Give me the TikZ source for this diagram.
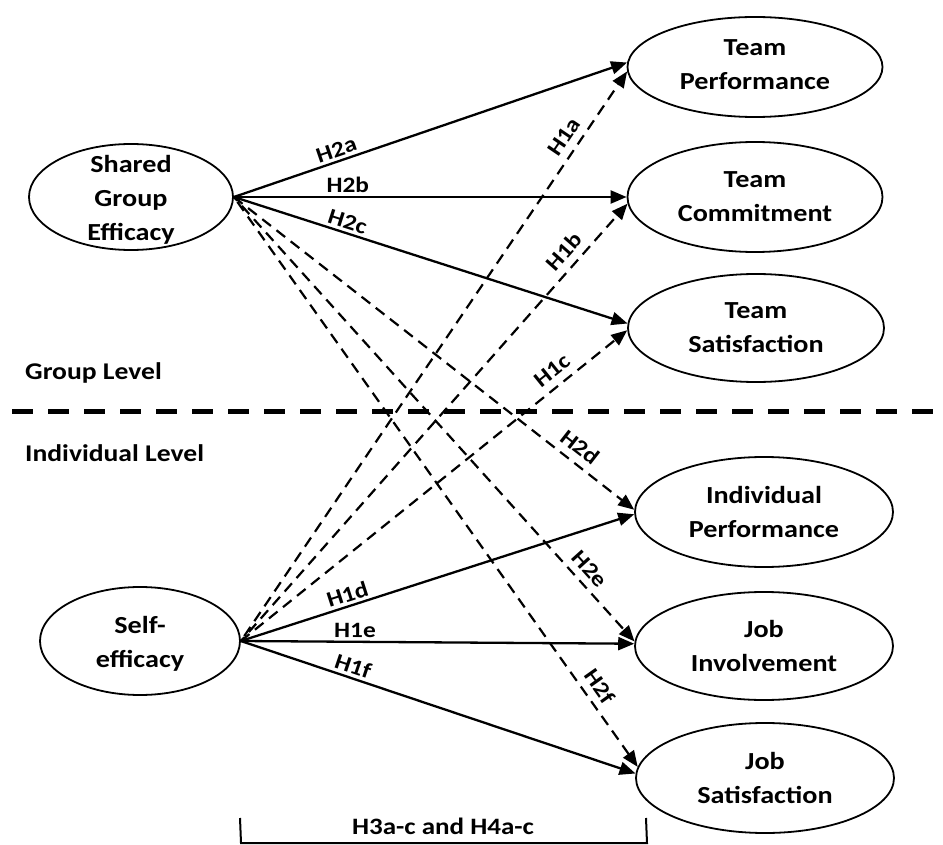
\documentclass[tikz,border=0pt]{standalone}
\usepackage{fontspec}
\setmainfont{Carlito}[FakeStretch=1.15]
\usetikzlibrary{shapes.geometric,arrows.meta}
\begin{document}
\begin{tikzpicture}[x=1pt,y=-1pt,
  construct/.style={ellipse, draw, line width=1.8pt, inner sep=0pt},
  ctext/.style={font=\fontsize{24.5}{34}\selectfont\bfseries, align=center, inner sep=0pt},
  tipstyle/.style={-{Triangle[length=16pt,width=13pt]}},
  link/.style={tipstyle, line width=2.3pt},
  dlink/.style={tipstyle, line width=2.2pt, dash pattern=on 11pt off 7pt, dash phase=#1},
  dlink/.default=0pt,
  hyp/.style={font=\fontsize{22}{26}\selectfont\bfseries, sloped, above, inner sep=3pt},
  dhyp/.style={hyp, inner sep=7pt},
  level/.style={font=\fontsize{24}{28}\selectfont\bfseries, anchor=west, inner sep=0pt},
  divider/.style={line width=5pt, dash pattern=on 21pt off 15pt},
]
\useasboundingbox (0,0) rectangle (943,845);

% predictors
\node[construct, minimum width=204pt, minimum height=106pt,
      label={[ctext, yshift=-3pt]center:Shared\\Group\\Efficacy}] (sge) at (131,197) {};
\node[construct, minimum width=200pt, minimum height=108pt,
      label={[ctext, yshift=-3pt]center:Self-\\efficacy}] (se) at (140,641) {};

% group-level outcomes
\node[construct, minimum width=255pt, minimum height=100pt,
      label={[ctext, yshift=2pt]center:Team\\Performance}] (tp) at (755,67) {};
\node[construct, minimum width=255pt, minimum height=110pt,
      label={[ctext]center:Team\\Commitment}] (tc) at (755,197) {};
\node[construct, minimum width=256pt, minimum height=108pt,
      label={[ctext]center:Team\\Satisfaction}] (ts) at (756,328) {};

% individual-level outcomes
\node[construct, minimum width=258pt, minimum height=110pt,
      label={[ctext]center:Individual\\Performance}] (ip) at (764,512) {};
\node[construct, minimum width=258pt, minimum height=108pt,
      label={[ctext]center:Job\\Involvement}] (ji) at (764,646) {};
\node[construct, minimum width=258pt, minimum height=110pt,
      label={[ctext]center:Job\\Satisfaction}] (js) at (765,778) {};

% level separator
\coordinate (divL) at (12,411);
\coordinate (divR) at (943,411);
\draw[divider] (divL) -- (divR);
\node[level] (grp) at (25,373) {Group Level};
\node[level] (ind) at (25,453) {Individual Level};

% shared group efficacy paths (dash phases staggered so the fans stay apart)
\draw[link] (sge.east) -- (tp.178) node[hyp, pos=.27] {H2a};
\draw[link] (sge.east) -- (tc.180) node[hyp, pos=.29] {H2b};
\draw[link] (sge.east) -- (ts.178.6) node[hyp, pos=.28] {H2c};
\draw[dlink=0pt] (sge.east) -- (ip.179) node[dhyp, pos=.84] {H2d};
\draw[dlink=6pt] (sge.east) -- (ji.178.7) node[dhyp, pos=.86] {H2e};
\draw[dlink=12pt] (sge.east) -- (js.175.5) node[dhyp, pos=.875] {H2f};

% self-efficacy paths
\draw[dlink=12pt] (se.east) -- (tp.182.3) node[dhyp, pos=.87] {H1a};
\draw[dlink=6pt] (se.east) -- (tc.183.2) node[dhyp, pos=.867] {H1b};
\draw[dlink=0pt] (se.east) -- (ts.181.3) node[dhyp, pos=.83] {H1c};
\draw[link] (se.east) -- (ip.181.5) node[hyp, pos=.28] {H1d};
\draw[link] (se.east) -- (ji.179.6) node[hyp, pos=.29] {H1e};
\draw[link] (se.east) -- (js.178) node[hyp, pos=.275] {H1f};

% cross-level bracket
\draw[line width=2pt] (240,818) -- (241,843) -- (647,843) -- (646,818);
\node[font=\fontsize{23.5}{28}\selectfont\bfseries, inner sep=0pt] (cross) at (443,826) {H3a-c and H4a-c};
\end{tikzpicture}
\end{document}
